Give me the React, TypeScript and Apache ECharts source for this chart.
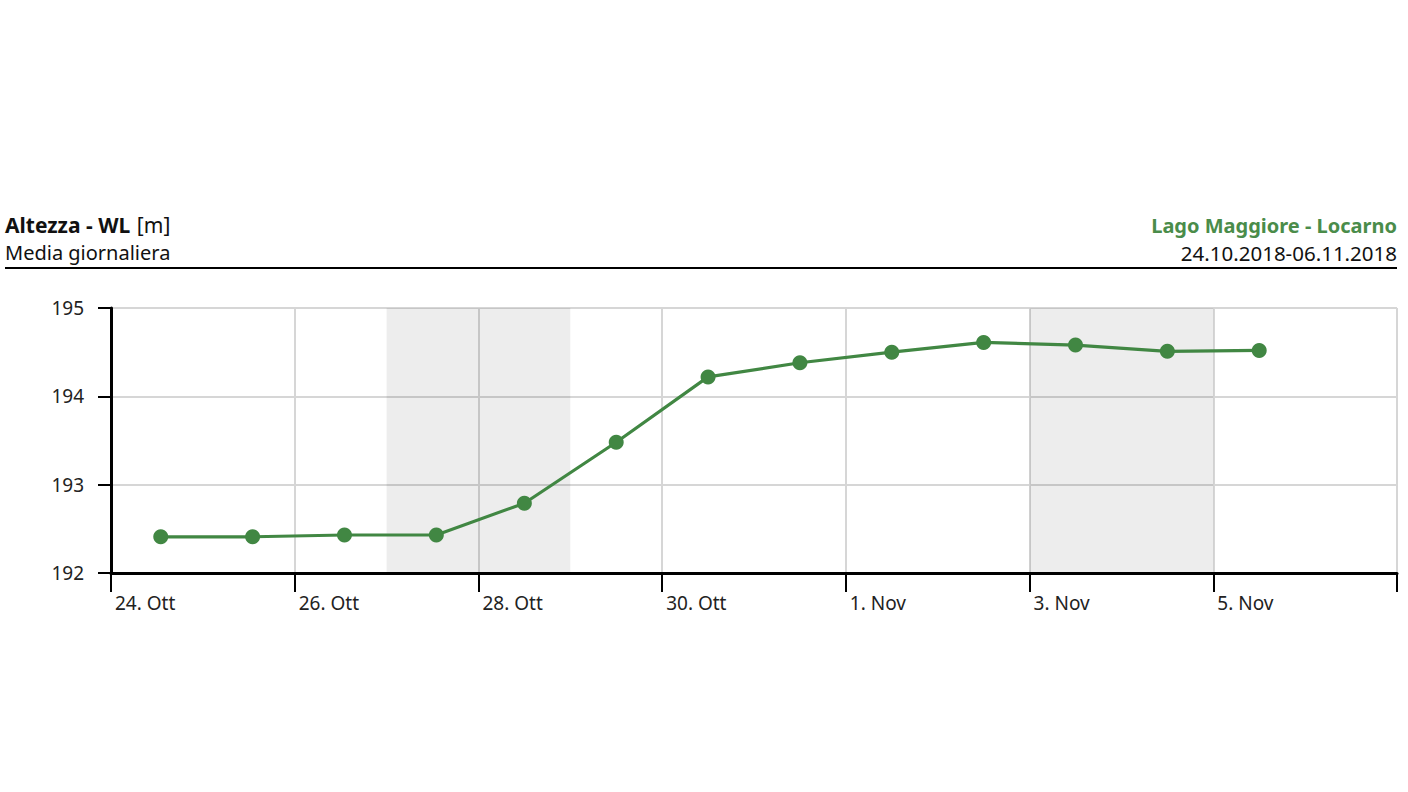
import React, { useEffect, useRef } from "react";
import * as echarts from "echarts";

const START = Date.UTC(2018, 9, 24);
const DAY = 86400000;
const toDay = (s: string) => (Date.parse(s) - START) / DAY;

const dates = [
  "2018-10-24T13:00Z",
  "2018-10-25T13:00Z",
  "2018-10-26T13:00Z",
  "2018-10-27T13:00Z",
  "2018-10-28T12:00Z",
  "2018-10-29T12:00Z",
  "2018-10-30T12:00Z",
  "2018-10-31T12:00Z",
  "2018-11-01T12:00Z",
  "2018-11-02T12:00Z",
  "2018-11-03T12:00Z",
  "2018-11-04T12:00Z",
  "2018-11-05T12:00Z",
];
const levels = [
  192.41, 192.41, 192.43, 192.43, 192.79, 193.48, 194.22, 194.38, 194.5,
  194.61, 194.58, 194.51, 194.52,
];
const tickLabels = ["24. Ott", "26. Ott", "28. Ott", "30. Ott", "1. Nov", "3. Nov", "5. Nov"];
const weekends = [
  ["2018-10-27T00:00Z", "2018-10-29T00:00Z"],
  ["2018-11-03T00:00Z", "2018-11-05T00:00Z"],
];
const titleLeft = "Altezza - WL";
const unit = "[m]";
const subtitle = "Media giornaliera";
const station = "Lago Maggiore - Locarno";
const period = "24.10.2018-06.11.2018";

const FONT = "'Noto Sans', sans-serif";
const GREEN = "#418743";

export default function App() {
  const ref = useRef<HTMLDivElement>(null);
  useEffect(() => {
    document.body.style.margin = "0";
    const chart = echarts.init(ref.current!, null, { renderer: "svg" });
    chart.setOption({
      animation: false,
      backgroundColor: "#ffffff",
      textStyle: { fontFamily: FONT },
      grid: { left: 111, right: 11, top: 308, bottom: 219, containLabel: false },
      graphic: [
        {
          type: "text",
          left: 5,
          top: 214,
          style: {
            text: `{b|${titleLeft}}  {n|${unit}}`,
            rich: {
              b: { fontFamily: FONT, fontSize: 21, fontWeight: "bold", fill: "#111" },
              n: { fontFamily: FONT, fontSize: 21, fill: "#111" },
            },
          },
        },
        {
          type: "text",
          left: 5,
          top: 242,
          style: { text: subtitle, fontFamily: FONT, fontSize: 20, fill: "#111" },
        },
        {
          type: "text",
          right: 11,
          top: 215,
          style: {
            text: station,
            fontFamily: FONT,
            fontSize: 20,
            fontWeight: "bold",
            fill: "#4a8c4a",
          },
        },
        {
          type: "text",
          right: 11,
          top: 242,
          style: { text: period, fontFamily: FONT, fontSize: 20.5, fill: "#111" },
        },
        {
          type: "line",
          shape: { x1: 5, y1: 268, x2: 1397, y2: 268 },
          style: { stroke: "#000", lineWidth: 2 },
        },
      ],
      xAxis: {
        type: "value",
        min: 0,
        max: 14,
        interval: 2,
        axisLine: { show: true, onZero: false, lineStyle: { color: "#000", width: 3 } },
        axisTick: { show: true, length: 19, lineStyle: { color: "#000", width: 2 } },
        axisLabel: {
          show: true,
          align: "left",
          margin: 20,
          padding: [0, 0, 0, 4],
          color: "#222",
          fontSize: 19,
          fontFamily: FONT,
          formatter: (v: number) => tickLabels[Math.round(v / 2)] ?? "",
        },
        splitLine: { show: true, lineStyle: { color: "#d6d6d6", width: 2 } },
      },
      yAxis: {
        type: "value",
        min: 192,
        max: 195,
        interval: 1,
        axisLine: { show: true, lineStyle: { color: "#000", width: 3 } },
        axisTick: { show: true, length: 13, lineStyle: { color: "#000", width: 2 } },
        axisLabel: {
          margin: 27,
          color: "#222",
          fontSize: 19,
          fontFamily: FONT,
          padding: [4, 0, 0, 0],
        },
        splitLine: { show: true, lineStyle: { color: "#d6d6d6", width: 2 } },
      },
      series: [
        {
          type: "line",
          data: dates.map((d, i) => [toDay(d), levels[i]]),
          symbol: "circle",
          symbolSize: 15,
          lineStyle: { color: GREEN, width: 3.2 },
          itemStyle: { color: GREEN },
          markArea: {
            silent: true,
            itemStyle: { color: "rgba(0,0,0,0.07)" },
            data: weekends.map(([a, b]) => [{ xAxis: toDay(a) }, { xAxis: toDay(b) }]),
          },
        },
      ],
    });
    return () => chart.dispose();
  }, []);
  return <div ref={ref} style={{ width: 1408, height: 792 }} />;
}
